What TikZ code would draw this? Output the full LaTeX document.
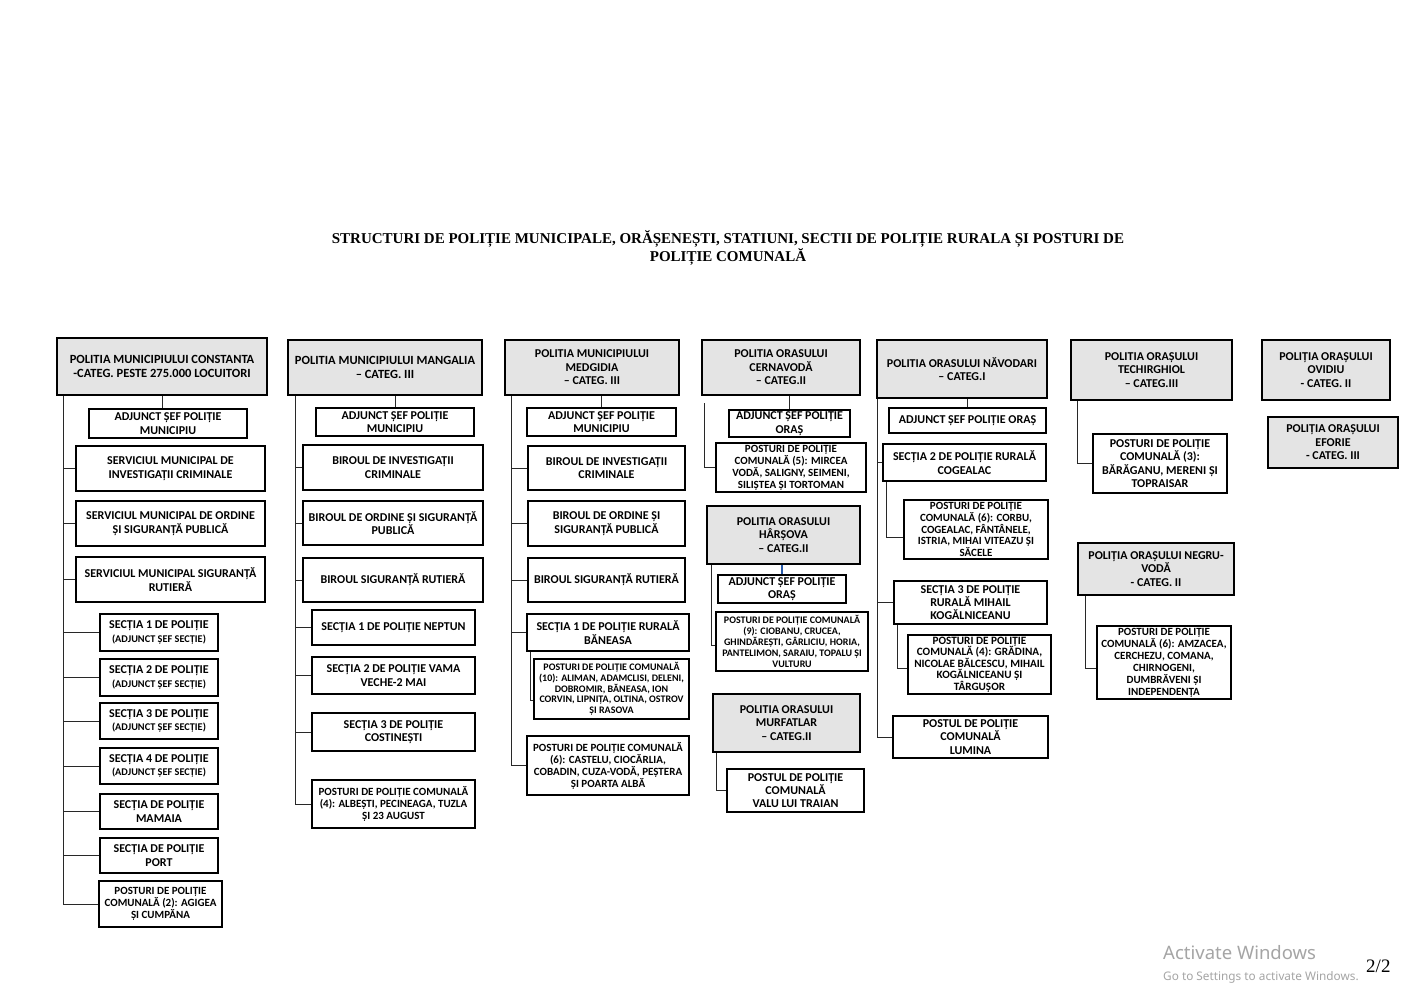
\documentclass[tikz,border=0pt]{standalone}
\usepackage{fontspec}
\newfontfamily\boxfont{Carlito}
\newfontfamily\titlefont{Liberation Serif}
\newfontfamily\wmfont{Noto Sans}
\definecolor{headgray}{RGB}{228,228,228}
\definecolor{linkgray}{RGB}{40,40,40}
\definecolor{linkblue}{RGB}{40,90,170}
\definecolor{wmgray}{RGB}{165,165,165}
\tikzset{
  headbox/.style={draw, line width=2.4pt, fill=headgray, align=center, inner sep=0pt,
    font=\boxfont\bfseries\fontsize{12}{13.5}\selectfont},
  unitbox/.style={draw, line width=1.6pt, fill=white, align=center, inner sep=0pt,
    font=\boxfont\bfseries\fontsize{12}{13.3}\selectfont},
  wh/.style 2 args={minimum width=#1pt, minimum height=#2pt},
  fs/.style 2 args={font=\boxfont\bfseries\fontsize{#1}{#2}\selectfont},
  link/.style={line width=1pt, draw=linkgray},
}
\newcommand\subline[1]{{\fontsize{10.3}{11}\selectfont #1}}
\begin{document}
\begin{tikzpicture}[x=1pt,y=-1pt]
\fill[white] (0,0) rectangle (1423,991);
\path[use as bounding box] (0,0) rectangle (1423,991);

% title
\node[align=center, inner sep=0pt, font=\titlefont\bfseries\fontsize{15}{15.5}\selectfont] (title) at (728,247.5)
 {STRUCTURI DE POLIȚIE MUNICIPALE, ORĂȘENEȘTI, STATIUNI, SECTII DE POLIȚIE RURALA ȘI POSTURI DE\\POLIȚIE COMUNALĂ};

% ---------- column 1
\node[headbox, wh={210}{57}, fs={12.5}{14}] (h1) at (162,366.5) {POLITIA MUNICIPIULUI CONSTANTA\\-CATEG. PESTE 275.000 LOCUITORI};
\node[unitbox, wh={158}{29}] (a1) at (168,423.5) {ADJUNCT ȘEF POLIȚIE\\MUNICIPIU};
\node[unitbox, wh={189}{45}] (s11) at (170.5,468.5) {SERVICIUL MUNICIPAL DE\\INVESTIGAȚII CRIMINALE};
\node[unitbox, wh={189}{45}] (s12) at (170.5,523.5) {SERVICIUL MUNICIPAL DE ORDINE\\ȘI SIGURANȚĂ PUBLICĂ};
\node[unitbox, wh={189}{45}] (s13) at (170.5,579.5) {SERVICIUL MUNICIPAL SIGURANȚĂ\\RUTIERĂ};
\node[unitbox, wh={118}{37}] (sec1) at (159,632.5) {SECȚIA 1 DE POLIȚIE\\\subline{(ADJUNCT ȘEF SECȚIE)}};
\node[unitbox, wh={118}{37}] (sec2) at (159,677.5) {SECȚIA 2 DE POLIȚIE\\\subline{(ADJUNCT ȘEF SECȚIE)}};
\node[unitbox, wh={118}{36}] (sec3) at (159,721) {SECȚIA 3 DE POLIȚIE\\\subline{(ADJUNCT ȘEF SECȚIE)}};
\node[unitbox, wh={118}{36}] (sec4) at (159,766) {SECȚIA 4 DE POLIȚIE\\\subline{(ADJUNCT ȘEF SECȚIE)}};
\node[unitbox, wh={118}{35}] (mam) at (159,811.5) {SECȚIA DE POLIȚIE\\MAMAIA};
\node[unitbox, wh={118}{35}] (port) at (159,855.5) {SECȚIA DE POLIȚIE\\PORT};
\node[unitbox, wh={123}{46}, fs={11}{12}] (p1) at (160.5,904) {POSTURI DE POLIȚIE\\COMUNALĂ (2): AGIGEA\\ȘI CUMPĂNA};

\coordinate (t1) at (63,0);
\draw[link] (h1.south -| t1) |- (p1.west);
\foreach \n in {s11,s12,s13,sec1,sec2,sec3,sec4,mam,port}
  \draw[link] (t1 |- \n.west) -- (\n.west);
\draw[link] (h1.south) -- (h1.south |- a1.north);

% ---------- column 2
\node[headbox, wh={194}{55}, fs={12.5}{14}] (h2) at (385,367.5) {POLITIA MUNICIPIULUI MANGALIA\\– CATEG. III};
\node[unitbox, wh={158}{28}] (a2) at (395,422) {ADJUNCT ȘEF POLIȚIE\\MUNICIPIU};
\node[unitbox, wh={180}{45}] (b21) at (393,467.5) {BIROUL DE INVESTIGAȚII\\CRIMINALE};
\node[unitbox, wh={180}{44}] (b22) at (393,523) {BIROUL DE ORDINE ȘI SIGURANȚĂ\\PUBLICĂ};
\node[unitbox, wh={180}{44}] (b23) at (393,580) {BIROUL SIGURANȚĂ RUTIERĂ};
\node[unitbox, wh={163}{35}] (s21) at (393.5,627.5) {SECȚIA 1 DE POLIȚIE NEPTUN};
\node[unitbox, wh={163}{37}] (s22) at (393.5,675.5) {SECȚIA 2 DE POLIȚIE VAMA\\VECHE-2 MAI};
\node[unitbox, wh={163}{38}] (s23) at (393.5,732) {SECȚIA 3 DE POLIȚIE\\COSTINEȘTI};
\node[unitbox, wh={163}{48}, fs={11}{12}] (p2) at (393.5,804) {POSTURI DE POLIȚIE COMUNALĂ\\(4): ALBEȘTI, PECINEAGA, TUZLA\\ȘI 23 AUGUST};

\coordinate (t2) at (295,0);
\draw[link] (h2.south -| t2) |- (p2.west);
\foreach \n in {b21,b22,b23,s21,s22,s23}
  \draw[link] (t2 |- \n.west) -- (\n.west);
\draw[link] (a2.north |- h2.south) -- (a2.north);

% ---------- column 3
\node[headbox, wh={174}{55}] (h3) at (592,367.5) {POLITIA MUNICIPIULUI\\MEDGIDIA\\– CATEG. III};
\node[unitbox, wh={149}{28}] (a3) at (601.5,422) {ADJUNCT ȘEF POLIȚIE\\MUNICIPIU};
\node[unitbox, wh={157}{44}] (b31) at (606.5,468) {BIROUL DE INVESTIGAȚII\\CRIMINALE};
\node[unitbox, wh={157}{45}] (b32) at (606.5,523.5) {BIROUL DE ORDINE ȘI\\SIGURANȚĂ PUBLICĂ};
\node[unitbox, wh={157}{44}] (b33) at (606.5,580) {BIROUL SIGURANȚĂ RUTIERĂ};
\node[unitbox, wh={162}{37}] (s31) at (608,632.5) {SECȚIA 1 DE POLIȚIE RURALĂ\\BĂNEASA};
\node[unitbox, wh={155}{60}, fs={10}{10.7}] (p31) at (611.5,689) {POSTURI DE POLIȚIE COMUNALĂ\\(10): ALIMAN, ADAMCLISI, DELENI,\\DOBROMIR, BĂNEASA, ION\\CORVIN, LIPNIȚA, OLTINA, OSTROV\\ȘI RASOVA};
\node[unitbox, wh={162}{59}, fs={11}{12}] (p32) at (608,765.5) {POSTURI DE POLIȚIE COMUNALĂ\\(6): CASTELU, CIOCĂRLIA,\\COBADIN, CUZA-VODĂ, PEȘTERA\\ȘI POARTA ALBĂ};

\coordinate (t3) at (511,0);
\draw[link] (h3.south -| t3) |- (p32.west);
\foreach \n in {b31,b32,b33,s31}
  \draw[link] (t3 |- \n.west) -- (\n.west);
\draw[link] (a3.north |- h3.south) -- (a3.north);
\coordinate (u3) at (530,0);
\draw[link] (s31.south -| u3) |- ([yshift=-11pt]p31.west);

% ---------- column 4
\node[headbox, wh={158}{55}] (h4) at (781,367.5) {POLITIA ORASULUI\\CERNAVODĂ\\– CATEG.II};
\node[unitbox, wh={121}{27}] (a4) at (789.5,423.5) {ADJUNCT ȘEF POLIȚIE\\ORAȘ};
\node[unitbox, wh={150}{49}, fs={11}{12}] (p41) at (791,467.5) {POSTURI DE POLIȚIE\\COMUNALĂ (5): MIRCEA\\VODĂ, SALIGNY, SEIMENI,\\SILIȘTEA ȘI TORTOMAN};
\coordinate (t4) at (704,0);
\draw[link] ([yshift=-7pt]h4.south -| t4) |- (p41.west);
\draw[link] (a4.north |- h4.south) -- (a4.north);

\node[headbox, wh={153}{58}] (h5) at (783.5,535) {POLITIA ORASULUI\\HÂRȘOVA\\– CATEG.II};
\node[unitbox, wh={128}{28}] (a5) at (782,589) {ADJUNCT ȘEF POLIȚIE\\ORAȘ};
\node[unitbox, wh={152}{59}, fs={10}{10.8}] (p51) at (792,641.5) {POSTURI DE POLIȚIE COMUNALĂ\\(9): CIOBANU, CRUCEA,\\GHINDĂREȘTI, GÂRLICIU, HORIA,\\PANTELIMON, SARAIU, TOPALU ȘI\\VULTURU};
\coordinate (t5) at (711,0);
\draw[link] (h5.south -| t5) |- ([yshift=-4pt]p51.west);
\draw[link, draw=linkblue, line width=1.6pt] (a5.north |- h5.south) -- (a5.north);

\node[headbox, wh={147}{58}] (h6) at (786.5,723) {POLITIA ORASULUI\\MURFATLAR\\– CATEG.II};
\node[unitbox, wh={137}{43}] (p61) at (795.5,790.5) {POSTUL  DE POLIȚIE\\COMUNALĂ\\VALU LUI TRAIAN};
\coordinate (t6) at (716,0);
\draw[link] (h6.south -| t6) |- (p61.west);

% ---------- column 5
\node[headbox, wh={170}{58}] (h7) at (962,369) {POLITIA ORASULUI NĂVODARI\\– CATEG.I};
\node[unitbox, wh={157}{25}] (a7) at (967.5,420.5) {ADJUNCT ȘEF POLIȚIE ORAȘ};
\node[unitbox, wh={163}{37}] (s71) at (964.5,462.5) {SECȚIA 2 DE POLIȚIE RURALĂ\\COGEALAC};
\node[unitbox, wh={144}{59}, fs={11}{11.8}] (p71) at (976,529.5) {POSTURI DE POLIȚIE\\COMUNALĂ (6): CORBU,\\COGEALAC, FÂNTÂNELE,\\ISTRIA, MIHAI VITEAZU ȘI\\SĂCELE};
\node[unitbox, wh={153}{43}] (s72) at (970.5,602.5) {SECȚIA 3 DE POLIȚIE\\RURALĂ MIHAIL\\KOGĂLNICEANU};
\node[unitbox, wh={143}{59}, fs={11.2}{11.5}] (p72) at (979.5,664.5) {POSTURI DE POLIȚIE\\COMUNALĂ (4): GRĂDINA,\\NICOLAE BĂLCESCU, MIHAIL\\KOGĂLNICEANU ȘI\\TÂRGUȘOR};
\node[unitbox, wh={155}{42}] (l7) at (970.5,737) {POSTUL  DE POLIȚIE\\COMUNALĂ\\LUMINA};
\coordinate (t7) at (877,0);
\draw[link] (h7.south -| t7) |- (l7.west);
\foreach \n in {s71,s72}
  \draw[link] (t7 |- \n.west) -- (\n.west);
\draw[link] (a7.north |- h7.south) -- (a7.north);
\coordinate (u71) at (886,0);
\draw[link] (s71.south -| u71) |- ([yshift=-7.5pt]p71.west);
\coordinate (u72) at (897,0);
\draw[link] (s72.south -| u72) |- ([yshift=-3.5pt]p72.west);

% ---------- column 6
\node[headbox, wh={161}{60}] (h8) at (1151.5,370) {POLITIA ORAȘULUI\\TECHIRGHIOL\\– CATEG.III};
\node[unitbox, wh={134}{59}] (p81) at (1160,463.5) {POSTURI DE POLIȚIE\\COMUNALĂ (3):\\BĂRĂGANU, MERENI ȘI\\TOPRAISAR};
\coordinate (t8) at (1077,0);
\draw[link] (h8.south -| t8) |- (p81.west);

\node[headbox, wh={156}{52}] (h9) at (1156,569) {POLIȚIA ORAȘULUI NEGRU-\\VODĂ\\- CATEG. II};
\node[unitbox, wh={134}{73}, fs={11}{12}] (p91) at (1164,662.5) {POSTURI DE POLIȚIE\\COMUNALĂ (6): AMZACEA,\\CERCHEZU, COMANA,\\CHIRNOGENI,\\DUMBRĂVENI ȘI\\INDEPENDENȚA};
\coordinate (t9) at (1085,0);
\draw[link] (h9.south -| t9) |- ([yshift=-6pt]p91.west);

% ---------- column 7
\node[headbox, wh={128}{60}] (h10) at (1326,370) {POLIȚIA ORAȘULUI\\OVIDIU\\- CATEG. II};
\node[headbox, wh={130}{51}] (h11) at (1333,442.5) {POLIȚIA ORAȘULUI\\EFORIE\\- CATEG. III};

% ---------- footer texts
\node[anchor=base west, inner sep=0pt, text=wmgray, font=\wmfont\fontsize{18.5}{20}\selectfont] (aw) at (1163,959) {Activate Windows};
\node[anchor=base west, inner sep=0pt, text=wmgray, font=\wmfont\fontsize{11.8}{14}\selectfont] (gs) at (1163,980) {Go to Settings to activate Windows.};
\node[anchor=base west, inner sep=0pt, font=\titlefont\fontsize{19}{21}\selectfont] (pg) at (1366,972) {2/2};
\end{tikzpicture}
\end{document}
